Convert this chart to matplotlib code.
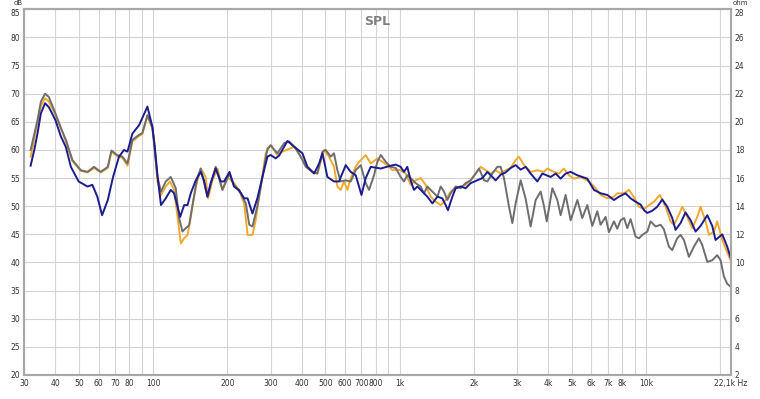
import matplotlib
matplotlib.use("Agg")
import matplotlib.pyplot as plt

# frequency response (Hz, dB)
blue_hz = [31.8, 32.9, 33.9, 35.0, 36.4, 37.7, 40.1, 42.1, 44.2, 46.3, 49.8, 54.1, 56.6, 59.3,
           62.0, 65.4, 68.7, 72.6, 76.1, 78.6, 82.3, 87.6, 94.7, 99.2, 101.5, 104.0, 107.5, 112.4,
           117.8, 121.5, 125.5, 128.6, 133.5, 137.8, 142.0, 148.8, 155.9, 160.6, 165.9, 170.9,
           179.2, 187.8, 193.8, 203.9, 212.6, 222.7, 233.9, 241.4, 252.8, 264.5, 277.4, 290.6,
           299.7, 314.0, 324.2, 350.4, 372.6, 403.2, 422.3, 449.6, 471.1, 486.2, 509.0, 541.3,
           567.2, 604.1, 633.0, 663.3, 699.9, 728.3, 763.1, 837.9, 919.9, 963.9, 1009, 1041, 1074,
           1108, 1143, 1180, 1237, 1295, 1358, 1423, 1490, 1537, 1570, 1637, 1688, 1768, 1853,
           1941, 2066, 2166, 2270, 2340, 2452, 2570, 2692, 2821, 2956, 3098, 3246, 3401, 3620,
           3793, 4100, 4296, 4500, 4715, 4941, 5262, 5772, 6143, 6538, 6959, 7408, 7760, 8258,
           8652, 9066, 9500, 9805, 10120, 10600, 11100, 11630, 12190, 12770, 13170, 13800, 14460,
           15160, 15880, 16640, 17720, 18560, 19140, 20380, 21350, 22020]
blue_db = [57.2, 60.0, 62.9, 66.5, 68.3, 67.6, 65.3, 62.5, 60.5, 57.0, 54.4, 53.5, 53.8, 51.7,
           48.4, 51.1, 55.2, 58.8, 60.0, 59.7, 62.9, 64.4, 67.7, 64.1, 60.5, 55.5, 50.2, 51.4,
           52.9, 52.3, 49.9, 48.1, 50.2, 50.2, 52.3, 54.6, 56.1, 54.6, 51.7, 54.1,
           56.7, 54.4, 54.4, 56.1, 53.5, 52.9, 51.4, 51.4, 48.7, 51.4, 55.2, 58.8,
           59.1, 58.5, 59.0, 61.6, 60.6, 59.4, 57.0, 55.8, 57.6, 59.4, 55.2, 54.4,
           54.4, 57.3, 56.1, 55.5, 52.0, 55.0, 57.0, 56.7, 57.2, 57.4, 57.0, 56.1, 57.0,
           54.6, 52.9, 53.5, 52.6, 51.7, 50.5, 51.7, 51.4, 50.2, 49.3, 51.7, 53.2, 53.5, 53.2,
           54.1, 54.6, 55.0, 56.1, 55.5, 54.6, 55.6, 56.0, 56.8, 57.3, 56.5, 57.0, 55.8, 54.4,
           55.8, 55.2, 55.8, 54.9, 55.8, 56.1, 55.5, 54.9, 52.9, 52.3, 52.0, 51.1, 51.7, 52.3,
           51.4, 50.8, 50.3, 49.3, 48.8, 49.2, 49.9, 51.2, 49.9, 47.9, 45.8, 47.0, 48.9,
           47.5, 45.5, 46.5, 48.4, 46.5, 44.0, 45.0, 42.8, 40.9]

orange_hz = [31.8, 32.9, 33.9, 35.0, 36.4, 37.7, 40.1, 42.1, 44.2, 47.0, 50.8, 54.1, 57.5, 61.2,
             65.4, 67.7, 71.3, 75.0, 78.6, 82.3, 87.6, 90.3, 94.7, 99.2, 100.7, 104.0, 107.5,
             112.4, 116.9, 121.5, 125.5, 129.4, 133.5, 137.8, 142.0, 148.8, 155.9, 163.2, 166.8,
             173.8, 182.3, 190.9, 200.0, 212.6, 222.7, 233.9, 241.4, 252.8, 260.4, 272.9, 286.0,
             299.7, 318.9, 334.6, 361.3, 372.6, 396.7, 422.3, 442.6, 463.5, 493.3, 516.4, 541.3,
             558.8, 576.5, 594.4, 613.8, 633.0, 663.3, 684.8, 706.6, 728.3, 763.1, 812.0, 850.9,
             891.5, 934.3, 978.7, 1009, 1058, 1108, 1161, 1217, 1275, 1336, 1400, 1467, 1537,
             1611, 1688, 1768, 1853, 1941, 2034, 2132, 2234, 2340, 2452, 2570, 2692, 2821, 2956,
             3048, 3198, 3401, 3620, 3852, 3977, 4228, 4432, 4642, 4864, 5097, 5424, 5861, 6240,
             6538, 6959, 7408, 7640, 8137, 8517, 8930, 9358, 9805, 10275, 10765, 11380, 12000,
             12570, 12970, 13590, 14020, 14690, 15390, 16130, 16640, 17440, 17990, 18850, 19440,
             20380, 21020, 22020]
orange_db = [58.8, 62.0, 64.8, 67.8, 69.2, 68.6, 66.2, 64.0, 61.5, 58.0, 56.3, 56.0, 56.8, 56.0,
             56.8, 59.7, 58.9, 58.6, 57.2, 61.5, 62.5, 62.8, 66.0, 63.8, 61.8, 54.4, 52.0,
             53.5, 54.4, 52.9, 48.1, 43.4, 44.3, 44.9, 48.1, 53.5, 56.7, 55.2, 51.4,
             54.6, 56.7, 52.9, 55.2, 54.1, 52.9, 50.5, 44.9, 44.9, 47.5, 53.5, 59.4,
             60.9, 59.1, 59.7, 60.3, 60.6, 58.8, 57.0, 56.1, 55.8, 60.0, 58.8, 57.0,
             53.5, 52.9, 54.4, 52.9, 55.0, 57.0, 57.9, 58.5, 59.1, 57.6, 58.5, 57.9,
             57.3, 56.4, 56.5, 56.4, 55.8, 53.8, 54.6, 55.0, 53.8, 51.7, 50.8, 50.2, 51.1,
             52.6, 53.2, 53.5, 53.8, 54.6, 55.8, 57.0, 56.4, 55.8, 56.4, 55.8, 56.4, 56.8, 58.2,
             58.8, 57.3, 56.1, 56.4, 56.1, 56.7, 56.1, 55.8, 56.7, 55.5, 54.9, 55.2, 54.4, 53.2,
             52.0, 51.4, 51.7, 52.3, 52.3, 52.9, 51.6, 49.9, 49.5, 50.2, 50.8, 52.0, 49.9,
             47.3, 46.7, 48.5, 49.9, 48.1, 46.1, 48.1, 49.9, 47.3, 44.9, 45.5, 47.3,
             44.0, 42.5, 40.4]

gray_hz = [31.8, 32.9, 33.9, 35.0, 36.4, 37.7, 40.1, 42.1, 44.2, 47.0, 50.8, 54.1, 57.5, 61.2,
           65.4, 67.7, 71.3, 75.0, 78.6, 82.3, 87.6, 90.3, 94.7, 99.2, 104.0, 107.5, 112.4, 117.8,
           123.4, 127.5, 131.4, 135.5, 139.9, 144.4, 151.2, 155.9, 165.9, 179.2, 190.9, 203.9,
           212.6, 226.5, 237.5, 245.3, 252.8, 264.5, 277.4, 290.6, 299.7, 318.9, 339.8, 356.2,
           378.6, 396.7, 415.7, 442.6, 463.5, 486.2, 501.1, 525.1, 541.3, 558.8, 576.5, 604.1,
           633.0, 663.3, 695.0, 728.3, 751.2, 787.0, 812.0, 837.9, 877.9, 919.9, 963.9, 1009,
           1041, 1074, 1108, 1161, 1217, 1255, 1295, 1358, 1423, 1467, 1513, 1561, 1611, 1688,
           1768, 1853, 1941, 2034, 2099, 2201, 2270, 2377, 2491, 2570, 2651, 2778, 2866, 2956,
           3098, 3246, 3401, 3564, 3733, 3852, 3953, 4165, 4364, 4500, 4715, 4941, 5262, 5509,
           5772, 6049, 6340, 6538, 6851, 7067, 7408, 7640, 7881, 8137, 8387, 8652, 9066, 9358,
           9652, 10120, 10430, 10930, 11450, 11810, 12380, 12770, 13380, 13800, 14240, 14920,
           15630, 16380, 16900, 17720, 18560, 19440, 20060, 20700, 21350, 22020]
gray_db = [60.0, 62.8, 65.3, 68.6, 70.0, 69.4, 66.5, 64.0, 61.8, 58.2, 56.4, 56.1, 57.0, 56.1,
           57.0, 59.9, 59.1, 58.8, 57.6, 61.8, 62.7, 63.0, 66.2, 64.0, 55.2, 52.6, 54.4, 55.2,
           53.2, 47.8, 45.5, 46.1, 46.6, 50.3, 55.2, 56.7, 51.7, 57.0, 52.9, 55.8,
           53.8, 52.3, 50.5, 46.7, 46.4, 50.0, 55.2, 60.2, 60.8, 59.4, 61.2, 61.5,
           60.3, 58.8, 57.0, 56.1, 55.8, 59.7, 60.0, 58.8, 59.4, 56.4, 54.4, 54.6,
           54.4, 56.4, 57.3, 54.1, 52.9, 55.5, 57.9, 59.1, 57.9, 57.0, 56.8, 55.2,
           54.4, 55.5, 55.0, 54.1, 53.5, 52.3, 53.5, 52.6, 51.7, 53.5, 52.6, 51.1, 52.3, 53.5,
           53.2, 54.1, 54.6, 55.8, 56.7, 54.6, 54.4, 55.8, 57.0, 57.0, 55.0, 49.9, 47.0, 50.5,
           54.6, 51.3, 46.4, 51.1, 52.6, 50.0, 47.3, 53.2, 51.1, 48.4, 52.0, 47.5, 51.1, 47.9,
           50.2, 46.5, 49.1, 46.7, 48.1, 45.4, 47.3, 46.0, 47.5, 47.9, 46.1, 47.7, 44.6, 44.3,
           44.9, 45.5, 47.3, 46.4, 46.7, 45.9, 42.8, 42.2, 44.3, 44.9, 44.0, 41.0,
           42.8, 44.3, 43.1, 40.1, 40.4, 41.3, 40.4, 37.5, 36.2, 35.7]

# axis ticks / grid
x_ticks = [30, 40, 50, 60, 70, 80, 100, 200, 300, 400, 500, 600, 700, 800,
           1000, 2000, 3000, 4000, 5000, 6000, 7000, 8000, 10000, 22050]
x_labels = ["30", "40", "50", "60", "70", "80", "100", "200", "300", "400", "500", "600",
            "700", "800", "1k", "2k", "3k", "4k", "5k", "6k", "7k", "8k", "10k", "22,1k Hz"]
x_grid = [30, 40, 50, 60, 70, 80, 90, 100, 200, 300, 400, 500, 600, 700, 800, 900,
          1000, 2000, 3000, 4000, 5000, 6000, 7000, 8000, 9000, 10000, 20000]
db_ticks = list(range(20, 86, 5))
ohm_ticks = list(range(2, 29, 2))

fig = plt.figure(figsize=(7.6, 3.99), dpi=100)
ax = fig.add_axes([24.4 / 760, 1 - 375 / 399, 706.3 / 760, 365.7 / 399])
ax.set_xscale("log")
ax.set_xlim(30, 22050)
ax.set_ylim(20, 85)

for f in x_grid:
    ax.axvline(f, color="#d4d4d4", lw=0.8, zorder=0)
for d in db_ticks:
    ax.axhline(d, color="#d4d4d4", lw=0.8, zorder=0)

ax.plot(orange_hz, orange_db, color="#f0a92e", lw=1.4, zorder=3)
ax.plot(gray_hz, gray_db, color="#6e6e6e", lw=1.4, zorder=4)
ax.plot(blue_hz, blue_db, color="#1c1c8f", lw=1.4, zorder=5)

ax.set_xticks(x_ticks)
ax.set_xticklabels(x_labels)
ax.minorticks_off()
ax.set_yticks(db_ticks)
ax.tick_params(length=0, labelsize=5.5, colors="#333333", pad=3)
for s in ax.spines.values():
    s.set_color("#a8a8a8")
    s.set_linewidth(1.5)

ax2 = ax.twinx()
ax2.set_ylim(2, 28)
ax2.set_yticks(ohm_ticks)
ax2.tick_params(length=0, labelsize=5.5, colors="#333333", pad=3)
for s in ax2.spines.values():
    s.set_color("#a8a8a8")
    s.set_linewidth(1.5)

ax.text(0.5, 0.985, "SPL", transform=ax.transAxes, ha="center", va="top",
        fontsize=9, fontweight="bold", color="#808080")
# unit labels sit just above the top tick labels
fig.text(18 / 760, 1.0, "dB", ha="center", va="top", fontsize=5, color="#333333")
fig.text(740 / 760, 1.0, "ohm", ha="center", va="top", fontsize=5, color="#333333")
ax.get_yticklabels()[-1].set_va("top")
ax2.get_yticklabels()[-1].set_va("top")

fig.savefig("out.png", dpi=100)
